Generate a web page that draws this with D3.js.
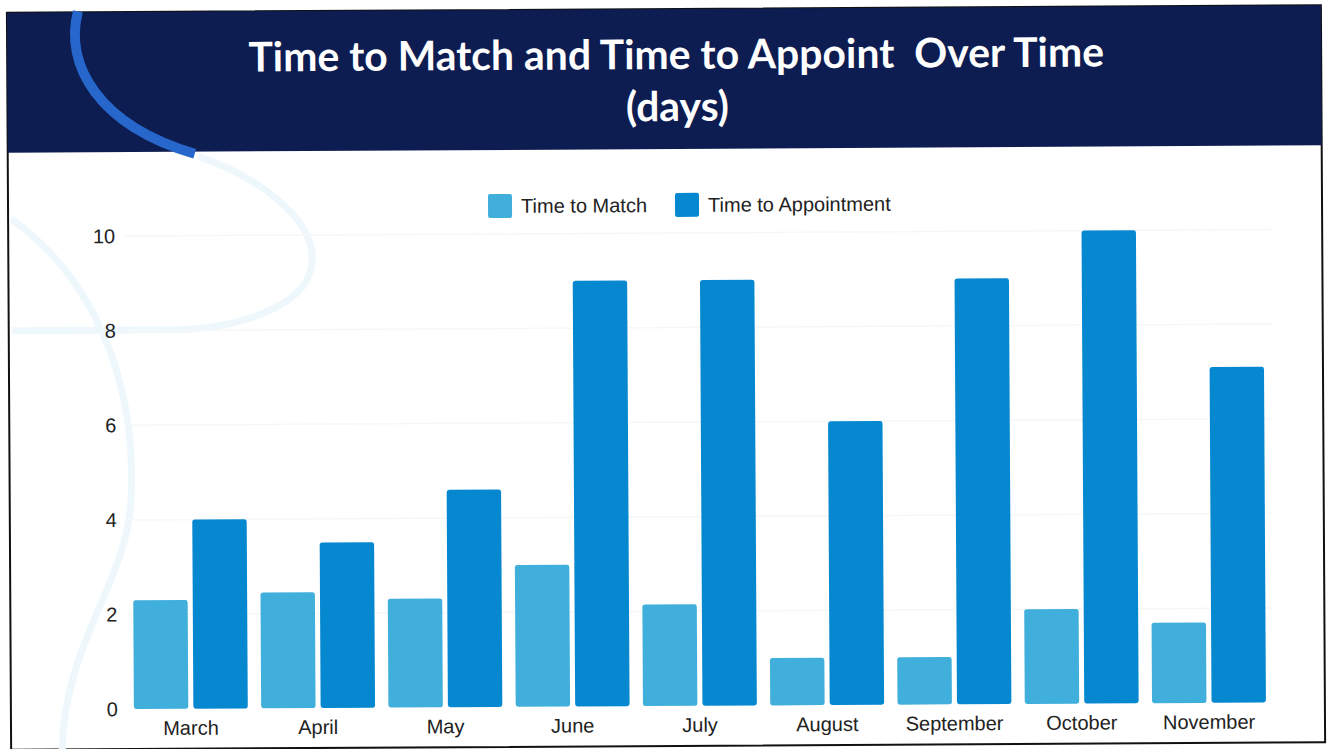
<!DOCTYPE html>
<html>
<head>
<meta charset="utf-8">
<script src="https://cdn.jsdelivr.net/npm/d3@7"></script>
<style>
  html, body { margin: 0; padding: 0; background: #fff; }
  svg { display: block; }
</style>
</head>
<body>
<svg id="chart" width="1331" height="749"></svg>
<script>
let months = ["March", "April", "May", "June", "July", "August", "September", "October", "November"]
let series = ["Time to Match", "Time to Appointment"]
let timeToMatch = [2.3, 2.45, 2.3, 3.0, 2.15, 1.0, 1.0, 2.0, 1.7]
let timeToAppointment = [4.0, 3.5, 4.6, 9.0, 9.0, 6.0, 9.0, 10.0, 7.1]
let yTicks = [0, 2, 4, 6, 8, 10]
let colors = ["#41afdc", "#0688d0"]

let rows = months.map((m, i) => ({month: m, values: [timeToMatch[i], timeToAppointment[i]]}))

let svg = d3.select("#chart")
// the scan is tilted a little
let g = svg.append("g").attr("transform", "rotate(-0.33 665 375)")

// slide frame + header
g.append("rect")
  .attr("x", 9).attr("y", 9).attr("width", 1314).attr("height", 737)
  .attr("fill", "#fff").attr("stroke", "#111").attr("stroke-width", 2)
g.append("rect")
  .attr("x", 9).attr("y", 9).attr("width", 1314).attr("height", 140)
  .attr("fill", "#0d1d52")

// decorative curves
g.append("path")
  .attr("d", "M 80 8 C 66 62, 100 122, 196 151")
  .attr("fill", "none").attr("stroke", "#2767cc").attr("stroke-width", 10)
let pale = "#eef8fc"
g.append("path")
  .attr("d", "M 200 154 C 260 175, 312 215, 313 255 C 314 300, 250 324, 180 327 L 12 327")
  .attr("fill", "none").attr("stroke", pale).attr("stroke-width", 7)
g.append("path")
  .attr("d", "M 12 215 C 95 275, 138 380, 130 500 C 125 580, 62 640, 60 748")
  .attr("fill", "none").attr("stroke", pale).attr("stroke-width", 7)

// title
let title = g.append("text")
  .attr("x", 678).attr("y", 69)
  .attr("text-anchor", "middle")
  .style("white-space", "pre")
  .attr("font-family", "Lato, 'Open Sans', sans-serif")
  .attr("font-weight", 700)
  .attr("font-size", 36)
  .attr("fill", "#fff")
  .text("Time to Match and Time to Appoint  Over Time")
let tw = title.node().getComputedTextLength()
let fs = 36 * 856 / tw
title.attr("font-size", fs)
g.append("text")
  .attr("x", 679).attr("y", 121)
  .attr("text-anchor", "middle")
  .attr("font-family", "Lato, 'Open Sans', sans-serif")
  .attr("font-weight", 700)
  .attr("font-size", fs)
  .attr("fill", "#fff")
  .text("(days)")

// scales
let x = d3.scaleBand().domain(months).range([125.6, 1270.4]).paddingInner(0.105).paddingOuter(0.05)
let xs = d3.scaleBand().domain(series).range([0, x.bandwidth()]).paddingInner(0.085)
let y = d3.scaleLinear().domain([0, 10]).range([706, 233])

// faint grid
g.append("g").selectAll("line")
  .data(yTicks.slice(1)).enter()
  .append("line")
  .attr("x1", 125).attr("x2", 1272)
  .attr("y1", d => y(d)).attr("y2", d => y(d))
  .attr("stroke", "#f6f7f8").attr("stroke-width", 1.5)

// y axis labels
let yAxis = g.append("g").attr("transform", "translate(116,0)")
  .call(d3.axisLeft(y).tickValues(yTicks).tickSize(0).tickPadding(0))
yAxis.select(".domain").remove()
yAxis.selectAll("text")
  .attr("font-family", "'Liberation Sans', Arial, sans-serif")
  .attr("font-size", 20).attr("fill", "#222")

// bars
let groups = g.append("g").selectAll("g")
  .data(rows).enter()
  .append("g")
  .attr("transform", d => "translate(" + x(d.month) + ",0)")
groups.selectAll("rect")
  .data(d => d.values.map((v, i) => ({key: series[i], value: v, i: i}))).enter()
  .append("rect")
  .attr("x", d => xs(d.key))
  .attr("width", xs.bandwidth())
  .attr("y", d => y(d.value))
  .attr("height", d => y(0) - y(d.value))
  .attr("rx", 2.5)
  .attr("fill", d => colors[d.i])

// x axis labels
let xAxis = g.append("g").attr("transform", "translate(0," + (y(0) + 7) + ")")
  .call(d3.axisBottom(x).tickSize(0).tickPadding(0))
xAxis.select(".domain").remove()
xAxis.selectAll("text")
  .attr("dy", "0.95em")
  .attr("font-family", "'Liberation Sans', Arial, sans-serif")
  .attr("font-size", 20).attr("fill", "#222")

// legend
let legend = g.append("g").selectAll("g")
  .data(series).enter()
  .append("g")
  .attr("transform", (d, i) => "translate(" + [489, 676][i] + ",193)")
legend.append("rect")
  .attr("width", 24).attr("height", 24).attr("rx", 2)
  .attr("fill", (d, i) => colors[i])
legend.append("text")
  .attr("x", 33).attr("y", 19)
  .attr("font-family", "'Liberation Sans', Arial, sans-serif")
  .attr("font-size", 20).attr("fill", "#222")
  .text(d => d)
</script>
</body>
</html>
